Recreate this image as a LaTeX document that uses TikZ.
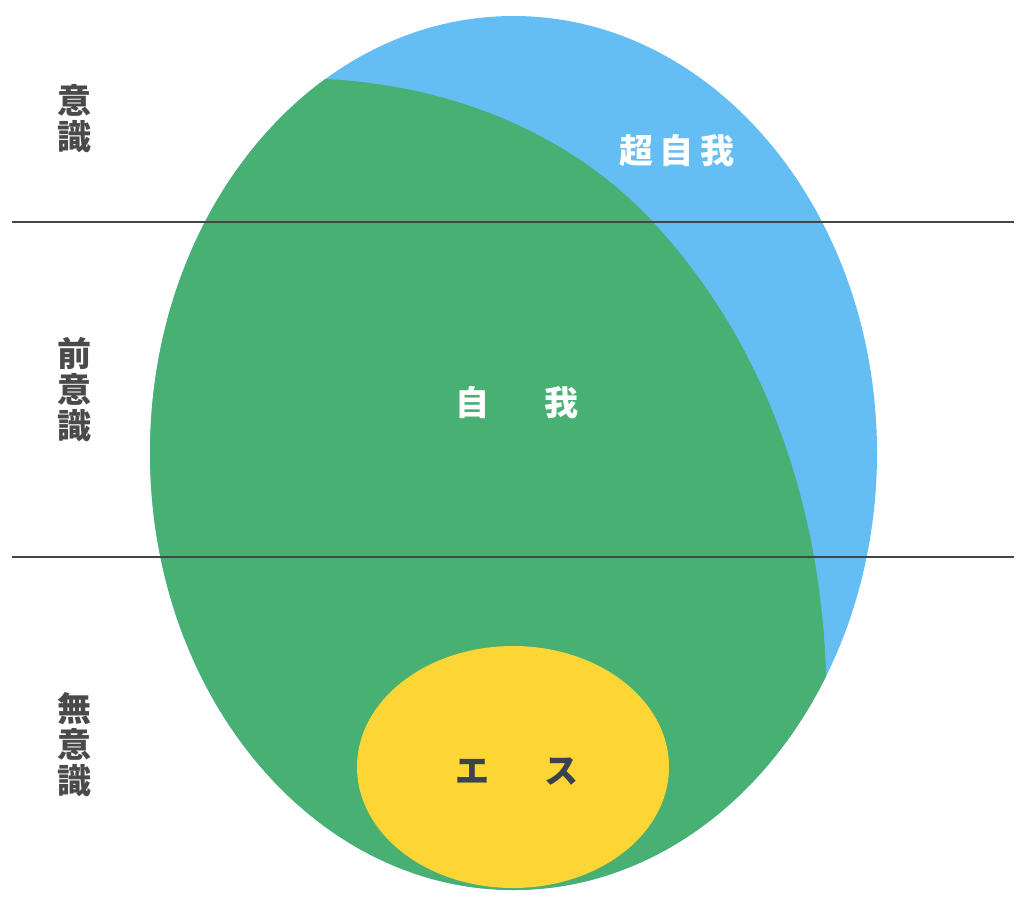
\documentclass[tikz,border=0pt]{standalone}
\usepackage{fontspec}
\newfontfamily\jp{Noto Sans CJK JP}
\definecolor{skyblue}{HTML}{64BEF4}
\definecolor{egogreen}{HTML}{47B072}
\definecolor{idyellow}{HTML}{FDD535}
\definecolor{labelgray}{HTML}{4A4A4A}
\definecolor{iddark}{HTML}{3A4150}
\definecolor{linegray}{HTML}{454545}
\tikzset{
  sidelabel/.style={font=\jp\bfseries\fontsize{34}{36}\selectfont, text=labelgray, align=center, inner sep=0pt},
  innerlabel/.style={font=\jp\bfseries\fontsize{34}{36}\selectfont, inner sep=0pt},
  levelline/.style={draw=linegray, line width=2.3pt}
}
\begin{document}
\begin{tikzpicture}[x=1pt,y=-1pt]
\useasboundingbox (0,0) rectangle (1024,902);
% outer ellipse (superego)
\fill[skyblue] (513.5,453) ellipse [x radius=363.5, y radius=437];
% ego region
\begin{scope}
  \clip (513.5,453) ellipse [x radius=363.5, y radius=437];
  \fill[egogreen] (250,79) -- (325,79)
    .. controls (448,85) and (568,131) .. (652,221)
    .. controls (767,344) and (820,506) .. (826,672)
    -- (830,760) -- (900,1000) -- (0,1000) -- (0,79) -- cycle;
\end{scope}
% id
\fill[idyellow] (513,767) ellipse [x radius=156, y radius=121];
% level lines
\coordinate (l1a) at (12,222);
\coordinate (l1b) at (1014,222);
\coordinate (l2a) at (12,557);
\coordinate (l2b) at (1014,557);
\draw[levelline] (l1a) -- (l1b);
\draw[levelline] (l2a) -- (l2b);
% side labels
\node[sidelabel] (conscious) at (74,119) {意\\識};
\node[sidelabel] (preconscious) at (74,390) {前\\意\\識};
\node[sidelabel] (unconscious) at (74,745) {無\\意\\識};
% inner labels
\node[innerlabel, text=white] (superego) at (677,151) {超\hspace{7pt}自\hspace{7pt}我};
\node[innerlabel, text=white] (ego) at (517,403) {自\hspace{55pt}我};
\node[innerlabel, text=iddark] (id) at (517,772) {エ\hspace{55pt}ス};
\end{tikzpicture}
\end{document}
